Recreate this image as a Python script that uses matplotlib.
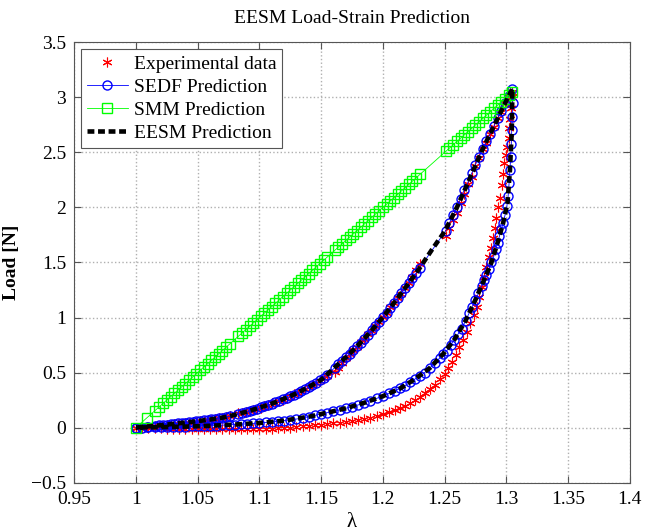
import matplotlib
matplotlib.use("Agg")
import matplotlib.pyplot as plt

plt.rcParams['font.family'] = ['Liberation Serif', 'DejaVu Serif']
plt.rcParams['font.size'] = 14

# loading path: stretch values where the test recorded samples (with gaps)
lam_load = [1.000, 1.009, 1.015, 1.019, 1.022, 1.025, 1.028, 1.031, 1.034, 1.037, 1.040, 1.043,
            1.046, 1.049, 1.052, 1.055, 1.058, 1.061, 1.064, 1.067, 1.070, 1.073, 1.076,
            1.083, 1.086, 1.089, 1.092, 1.095, 1.098, 1.101, 1.104, 1.107, 1.110, 1.113, 1.116,
            1.119, 1.122, 1.125, 1.128, 1.131, 1.134, 1.137, 1.140, 1.143, 1.146, 1.149, 1.152, 1.155,
            1.161, 1.164, 1.167, 1.170, 1.173, 1.176, 1.179, 1.182, 1.185, 1.188, 1.191, 1.194,
            1.197, 1.200, 1.203, 1.206, 1.209, 1.212, 1.215, 1.218, 1.221, 1.224, 1.227, 1.230,
            1.251, 1.254, 1.257, 1.260, 1.263, 1.266, 1.269, 1.272, 1.275, 1.278, 1.281, 1.284,
            1.287, 1.290, 1.293, 1.296, 1.299, 1.302, 1.305]

exp_load = [0.000, 0.004, 0.010, 0.014, 0.018, 0.021, 0.025, 0.029, 0.032, 0.036, 0.040, 0.044,
            0.048, 0.052, 0.057, 0.062, 0.067, 0.072, 0.077, 0.083, 0.089, 0.095, 0.101,
            0.128, 0.136, 0.140, 0.152, 0.158, 0.172, 0.180, 0.195, 0.203, 0.219, 0.227, 0.244,
            0.254, 0.272, 0.283, 0.302, 0.314, 0.335, 0.348, 0.370, 0.385, 0.408, 0.424, 0.450, 0.472,
            0.505, 0.545, 0.590, 0.628, 0.668, 0.705, 0.735, 0.775, 0.806, 0.848, 0.880, 0.925,
            0.958, 1.006, 1.041, 1.092, 1.128, 1.181, 1.217, 1.272, 1.318, 1.370, 1.430, 1.490,
            1.740, 1.810, 1.890, 1.950, 2.040, 2.120, 2.210, 2.280, 2.380, 2.450, 2.530, 2.590,
            2.670, 2.730, 2.810, 2.870, 2.950, 3.000, 3.050]

sedf_load = [0.000, 0.009, 0.015, 0.020, 0.024, 0.027, 0.030, 0.034, 0.037, 0.041, 0.045, 0.049,
             0.053, 0.057, 0.061, 0.066, 0.070, 0.075, 0.080, 0.085, 0.090, 0.095, 0.101,
             0.125, 0.133, 0.142, 0.151, 0.161, 0.171, 0.182, 0.193, 0.205, 0.217, 0.229, 0.242,
             0.256, 0.270, 0.285, 0.300, 0.316, 0.333, 0.350, 0.368, 0.387, 0.406, 0.430, 0.452, 0.476,
             0.545, 0.575, 0.606, 0.638, 0.670, 0.703, 0.737, 0.772, 0.808, 0.845, 0.883, 0.922,
             0.962, 1.003, 1.045, 1.088, 1.132, 1.176, 1.221, 1.266, 1.312, 1.358, 1.405, 1.452,
             1.790, 1.860, 1.930, 2.000, 2.080, 2.160, 2.230, 2.310, 2.390, 2.460, 2.530, 2.600,
             2.670, 2.740, 2.810, 2.880, 2.950, 3.010, 3.080]

smm_load = [0.00, 0.09, 0.15, 0.19, 0.22, 0.25, 0.28, 0.31, 0.34, 0.37, 0.40, 0.43,
            0.46, 0.49, 0.52, 0.55, 0.58, 0.61, 0.64, 0.67, 0.70, 0.73, 0.76,
            0.83, 0.86, 0.89, 0.92, 0.95, 0.98, 1.01, 1.04, 1.07, 1.10, 1.13, 1.16,
            1.19, 1.22, 1.25, 1.28, 1.31, 1.34, 1.37, 1.40, 1.43, 1.46, 1.49, 1.52, 1.55,
            1.61, 1.64, 1.67, 1.70, 1.73, 1.76, 1.79, 1.82, 1.85, 1.88, 1.91, 1.94,
            1.97, 2.00, 2.03, 2.06, 2.09, 2.12, 2.15, 2.18, 2.21, 2.24, 2.27, 2.30,
            2.51, 2.54, 2.57, 2.60, 2.63, 2.66, 2.69, 2.72, 2.75, 2.78, 2.81, 2.84,
            2.87, 2.90, 2.93, 2.96, 2.99, 3.02, 3.05]

# unloading path, experimental
lam_exp_unl = [1.3045, 1.3035, 1.3030, 1.3025, 1.3020, 1.3010, 1.2995, 1.2985, 1.2975, 1.2965,
               1.2950, 1.2935, 1.2920, 1.2905, 1.2890, 1.2875, 1.2860, 1.2840, 1.2820, 1.2800,
               1.2780, 1.2760, 1.2740, 1.2710, 1.2680, 1.2650, 1.2620, 1.2590, 1.2560, 1.2530,
               1.2500, 1.2460, 1.2420, 1.2380, 1.2340, 1.2300, 1.2260, 1.2220, 1.2180, 1.2140,
               1.2100, 1.2050, 1.2000, 1.1950, 1.1900, 1.1850, 1.1800, 1.1750, 1.1700, 1.1650,
               1.1600, 1.1550, 1.1500, 1.1450, 1.1400, 1.1350, 1.1300, 1.1250, 1.1200, 1.1150,
               1.1100, 1.1050, 1.1000, 1.0950, 1.0900, 1.0850, 1.0800, 1.0750, 1.0700, 1.0650,
               1.0600, 1.0550, 1.0500, 1.0450, 1.0400, 1.0350, 1.0300, 1.0250, 1.0200, 1.0150,
               1.0100, 1.0050, 1.0000]
exp_unl = [3.00, 2.90, 2.80, 2.72, 2.63, 2.55, 2.48, 2.40, 2.30, 2.20,
           2.09, 2.00, 1.90, 1.81, 1.72, 1.63, 1.55, 1.46, 1.37, 1.28,
           1.19, 1.10, 1.02, 0.95, 0.87, 0.80, 0.73, 0.66, 0.60, 0.54,
           0.49, 0.44, 0.39, 0.35, 0.31, 0.28, 0.25, 0.22, 0.195, 0.175,
           0.160, 0.140, 0.120, 0.105, 0.090, 0.080, 0.070, 0.060, 0.050, 0.045,
           0.040, 0.030, 0.025, 0.020, 0.015, 0.010, 0.005, 0.000, -0.005, -0.008,
           -0.010, -0.011, -0.012, -0.012, -0.012, -0.013, -0.013, -0.013, -0.013, -0.014,
           -0.014, -0.014, -0.014, -0.013, -0.013, -0.012, -0.011, -0.010, -0.008, -0.006,
           -0.004, -0.002, 0.000]

# unloading path, SEDF prediction
lam_sedf_unl = [1.3052, 1.3048, 1.3045, 1.3041, 1.3036, 1.3030, 1.3023, 1.3015, 1.3005, 1.2990,
                1.2975, 1.2960, 1.2945, 1.2930, 1.2915, 1.2900, 1.2880, 1.2860, 1.2840, 1.2820,
                1.2800, 1.2775, 1.2750, 1.2725, 1.2700, 1.2670, 1.2640, 1.2610, 1.2580, 1.2550,
                1.2520, 1.2490, 1.2460, 1.2420, 1.2380, 1.2340, 1.2300, 1.2260, 1.2220, 1.2180,
                1.2140, 1.2100, 1.2050, 1.2000, 1.1950, 1.1900, 1.1850, 1.1800, 1.1750, 1.1700,
                1.1650, 1.1600, 1.1550, 1.1500, 1.1450, 1.1400, 1.1350, 1.1300, 1.1250, 1.1200,
                1.1150, 1.1100, 1.1050, 1.1000, 1.0950, 1.0900, 1.0850, 1.0800, 1.0750, 1.0700,
                1.0650, 1.0600, 1.0550, 1.0500, 1.0450, 1.0400, 1.0350, 1.0300, 1.0250, 1.0200,
                1.0150, 1.0100, 1.0050, 1.0000]
sedf_unl = [2.95, 2.82, 2.70, 2.58, 2.46, 2.34, 2.22, 2.10, 2.01, 1.93,
            1.86, 1.80, 1.74, 1.68, 1.62, 1.56, 1.50, 1.44, 1.39, 1.34,
            1.29, 1.22, 1.16, 1.10, 1.04, 0.97, 0.90, 0.85, 0.80, 0.75,
            0.70, 0.67, 0.63, 0.59, 0.54, 0.50, 0.47, 0.44, 0.41, 0.38,
            0.355, 0.335, 0.310, 0.285, 0.265, 0.245, 0.225, 0.205, 0.190, 0.175,
            0.160, 0.148, 0.135, 0.123, 0.110, 0.098, 0.087, 0.077, 0.070, 0.063,
            0.057, 0.051, 0.046, 0.041, 0.037, 0.033, 0.030, 0.027, 0.024, 0.021,
            0.018, 0.016, 0.014, 0.012, 0.010, 0.008, 0.007, 0.005, 0.004, 0.003,
            0.002, 0.001, 0.000, 0.000]

# EESM prediction, continuous loading then unloading
lam_eesm = [1.00, 1.01, 1.02, 1.03, 1.04, 1.05, 1.06, 1.07, 1.08, 1.09, 1.10, 1.11, 1.12,
            1.13, 1.14, 1.15, 1.16, 1.17, 1.18, 1.19, 1.20, 1.21, 1.22, 1.23, 1.24, 1.25,
            1.26, 1.27, 1.28, 1.29, 1.30, 1.305,
            1.3045, 1.3030, 1.3010, 1.2975, 1.2930, 1.2880, 1.2820, 1.2750, 1.2670, 1.2580,
            1.2490, 1.2380, 1.2260, 1.2140, 1.2000, 1.1850, 1.1700, 1.1550, 1.1400, 1.1200,
            1.1000, 1.0800, 1.0600, 1.0400, 1.0200, 1.0000]
eesm = [0.000, 0.010, 0.021, 0.033, 0.045, 0.058, 0.073, 0.090, 0.115, 0.145, 0.180, 0.217, 0.261,
        0.311, 0.368, 0.433, 0.535, 0.638, 0.749, 0.870, 1.003, 1.146, 1.297, 1.452, 1.620, 1.780,
        2.000, 2.250, 2.510, 2.740, 2.970, 3.080,
        2.70, 2.34, 2.04, 1.86, 1.68, 1.50, 1.34, 1.16, 0.97, 0.80,
        0.67, 0.54, 0.44, 0.355, 0.285, 0.225, 0.175, 0.135, 0.098, 0.063,
        0.041, 0.027, 0.016, 0.008, 0.003, 0.000]

fig = plt.figure(figsize=(6.45, 5.31), dpi=100)
ax = fig.add_axes([0.1152, 0.0913, 0.861, 0.8287])

ax.plot(lam_load + lam_exp_unl, exp_load + exp_unl, linestyle='none', marker=(6, 2, 0),
        markersize=7, markeredgewidth=0.8, color='red', label='Experimental data')
ax.plot(lam_load + lam_sedf_unl, sedf_load + sedf_unl, color='blue', linewidth=0.6,
        marker='o', markersize=6.5, markerfacecolor='none', markeredgewidth=1.0,
        label='SEDF Prediction')
ax.plot(lam_load, smm_load, color='#00ff00', linewidth=0.6, marker='s', markersize=7,
        markerfacecolor='none', markeredgewidth=1.0, label='SMM Prediction')
ax.plot(lam_eesm, eesm, color='black', linewidth=3.3, dashes=(1.5, 0.8), label='EESM Prediction')

ax.set_xlim(0.95, 1.4)
ax.set_ylim(-0.5, 3.5)
ax.set_xticks([0.95, 1, 1.05, 1.1, 1.15, 1.2, 1.25, 1.3, 1.35, 1.4])
ax.set_xticklabels(['0.95', '1', '1.05', '1.1', '1.15', '1.2', '1.25', '1.3', '1.35', '1.4'])
ax.set_yticks([-0.5, 0, 0.5, 1, 1.5, 2, 2.5, 3, 3.5])
ax.set_yticklabels(['\u22120.5', '0', '0.5', '1', '1.5', '2', '2.5', '3', '3.5'])
ax.grid(True, linestyle=':', color='#b0b0b0', linewidth=1)
ax.tick_params(direction='in', top=True, right=True, length=5, color='#555555', pad=6)
for s in ax.spines.values():
    s.set_color('#555555')

ax.set_title('EESM Load-Strain Prediction', fontsize=14, pad=14)
ax.set_xlabel('\u03bb', fontsize=15)
ax.set_ylabel('Load [N]', fontweight='bold', fontsize=14, labelpad=8)

leg = ax.legend(loc='upper left', fontsize=14, fancybox=False, framealpha=1,
                edgecolor='#555555', borderaxespad=0.35, labelspacing=0.28,
                handlelength=2.1, handletextpad=0.3, borderpad=0.3)
leg.get_frame().set_linewidth(0.8)

fig.savefig('out.png', dpi=100)
